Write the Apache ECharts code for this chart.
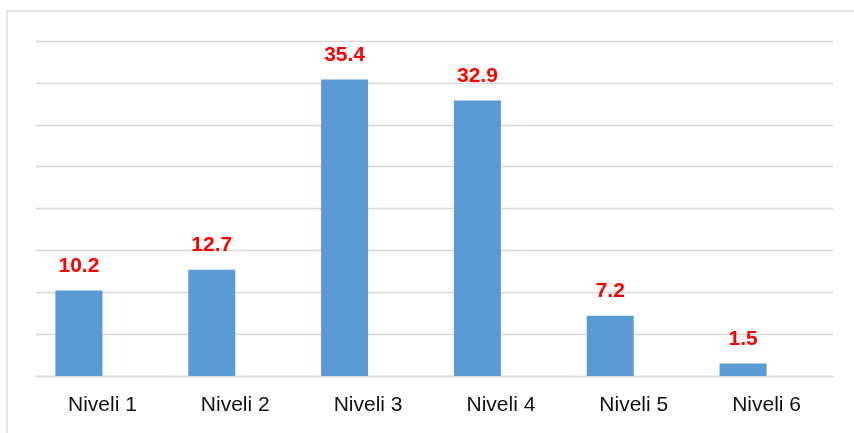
<!DOCTYPE html>
<html>
<head>
<meta charset="utf-8">
<script src="https://cdn.jsdelivr.net/npm/echarts@6/dist/echarts.min.js"></script>
<style>html,body{margin:0;padding:0;background:#fff}#c{width:854px;height:433px}</style>
</head>
<body>
<div id="c"></div>
<script>
var categories = ['Niveli 1', 'Niveli 2', 'Niveli 3', 'Niveli 4', 'Niveli 5', 'Niveli 6'];
var values = [10.2, 12.7, 35.4, 32.9, 7.2, 1.5];
var emptySeries = [null, null, null, null, null, null];

var chart = echarts.init(document.getElementById('c'), null, {renderer: 'canvas'});
chart.setOption({
  animation: false,
  backgroundColor: '#ffffff',
  graphic: [{
    type: 'rect',
    shape: {x: 7, y: 11, width: 1000, height: 600},
    style: {fill: 'none', stroke: '#d9d9d9', lineWidth: 1.3},
    silent: true
  }],
  grid: {left: 36, right: 21, top: 41, bottom: 57, containLabel: false},
  xAxis: {
    type: 'category',
    data: categories,
    axisTick: {show: false},
    axisLine: {show: true, lineStyle: {color: '#d9d9d9', width: 1.3}},
    axisLabel: {
      color: '#111111',
      fontFamily: 'Liberation Sans, Arial, sans-serif',
      fontSize: 21,
      margin: 19
    }
  },
  yAxis: {
    type: 'value',
    min: 0,
    max: 40,
    interval: 5,
    axisLabel: {show: false},
    axisLine: {show: false},
    axisTick: {show: false},
    splitLine: {show: true, lineStyle: {color: '#d9d9d9', width: 1.3}}
  },
  series: [{
    type: 'bar',
    data: values,
    barWidth: 47,
    barGap: '0%',
    itemStyle: {color: '#5b9bd5'},
    label: {
      show: true,
      position: 'top',
      distance: 14,
      color: '#ff0000',
      fontWeight: 'bold',
      fontFamily: 'Liberation Sans, Arial, sans-serif',
      fontSize: 21
    }
  }, {
    type: 'bar',
    data: emptySeries,
    barWidth: 47,
    itemStyle: {color: '#ed7d31'}
  }]
});
</script>
</body>
</html>
